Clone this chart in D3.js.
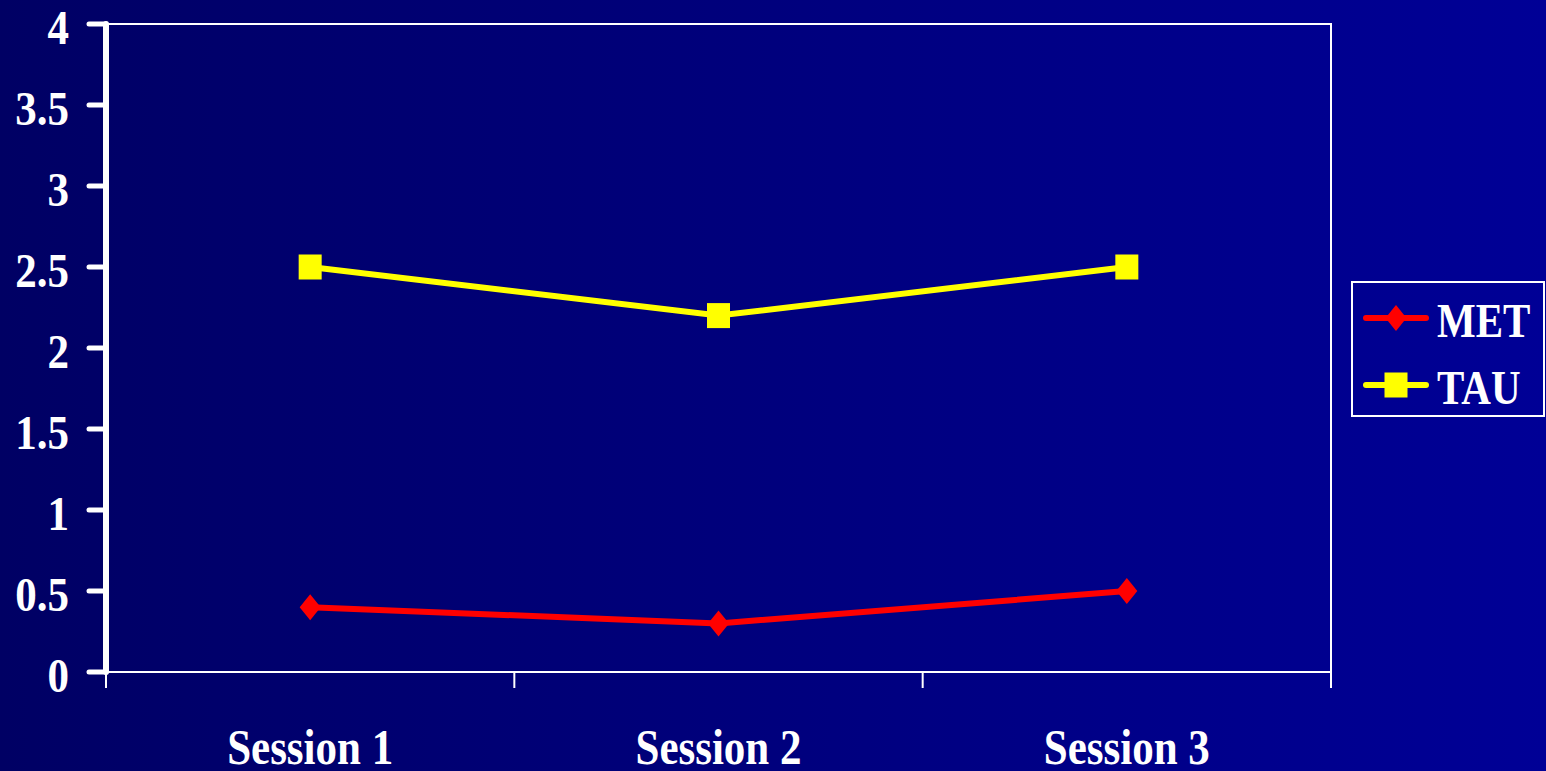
<!DOCTYPE html>
<html>
<head>
<meta charset="utf-8">
<script src="https://cdn.jsdelivr.net/npm/d3@7"></script>
<style>
  html, body { margin: 0; padding: 0; overflow: hidden; }
  svg { display: block; }
  text { font-family: "Liberation Serif", "Times New Roman", serif; font-weight: bold; fill: #fff; }
</style>
</head>
<body>
<svg id="chart" width="1546" height="771"></svg>
<script>
// Chart data
const sessions = ["Session 1", "Session 2", "Session 3"];
const metValues = [0.4, 0.3, 0.5];
const tauValues = [2.5, 2.2, 2.5];
const yTicks = [0, 0.5, 1, 1.5, 2, 2.5, 3, 3.5, 4];

const series = [
  { name: "MET", values: metValues, color: "#ff0000", marker: "diamond" },
  { name: "TAU", values: tauValues, color: "#ffff00", marker: "square" }
];

const W = 1546, H = 771;
const plot = { left: 106, right: 1331, top: 24, bottom: 672 };

const svg = d3.select("#chart");

// Background: horizontal navy-to-blue gradient
const defs = svg.append("defs");
const grad = defs.append("linearGradient").attr("id", "bg").attr("x1", 0).attr("x2", 1).attr("y1", 0).attr("y2", 0);
grad.append("stop").attr("offset", "0%").attr("stop-color", "#000064");
grad.append("stop").attr("offset", "100%").attr("stop-color", "#000096");
svg.append("rect").attr("width", W).attr("height", H).attr("fill", "url(#bg)");

const x = d3.scaleBand().domain(sessions).range([plot.left, plot.right]).padding(0);
const y = d3.scaleLinear().domain([0, 4]).range([plot.bottom, plot.top]);
const cx = d => x(d) + x.bandwidth() / 2;

// Text is drawn slightly stretched vertically (tall, narrow glyphs)
function stretchedText(sel, px, py, sy) {
  return sel.attr("transform", (d, i) => `translate(${px(d, i)},${py(d, i)}) scale(1,${sy})`);
}

// Plot frame (top and right edges)
svg.append("path")
  .attr("d", `M${plot.left},${plot.top}H${plot.right}V${plot.bottom}`)
  .attr("fill", "none").attr("stroke", "#fff").attr("stroke-width", 2);

// X axis
const xAxis = svg.append("g").attr("transform", `translate(0,${plot.bottom})`);
xAxis.append("line").attr("x1", plot.left).attr("x2", plot.right).attr("stroke", "#fff").attr("stroke-width", 2);
const xBounds = sessions.map(s => x(s)).concat([plot.right]);
xAxis.selectAll("line.tick").data(xBounds).join("line").attr("class", "tick")
  .attr("x1", d => d).attr("x2", d => d).attr("y1", 0).attr("y2", 16)
  .attr("stroke", "#fff").attr("stroke-width", 2);
stretchedText(
  xAxis.selectAll("text").data(sessions).join("text")
    .attr("text-anchor", "middle").style("font-size", "43px").text(d => d),
  d => cx(d), () => 92, 1.17);

// Y axis
const yAxis = svg.append("g");
yAxis.append("line").attr("x1", plot.left).attr("x2", plot.left)
  .attr("y1", plot.top).attr("y2", plot.bottom)
  .attr("stroke", "#fff").attr("stroke-width", 6).attr("stroke-linecap", "round");
yAxis.selectAll("line.tick").data(yTicks).join("line").attr("class", "tick")
  .attr("x1", plot.left - 17).attr("x2", plot.left).attr("y1", d => y(d)).attr("y2", d => y(d))
  .attr("stroke", "#fff").attr("stroke-width", 5).attr("stroke-linecap", "round");
stretchedText(
  yAxis.selectAll("text").data(yTicks).join("text")
    .attr("text-anchor", "end").style("font-size", "43px").text(d => d),
  () => 69, d => y(d) + 20, 1.12);

// Series lines and markers
const line = d3.line().x((d, i) => cx(sessions[i])).y(d => y(d));
function drawMarker(g, type, color) {
  if (type === "diamond") {
    g.append("path").attr("d", "M0,-13L10.5,0L0,13L-10.5,0Z").attr("fill", color);
  } else {
    g.append("rect").attr("x", -11.5).attr("y", -12.5).attr("width", 23).attr("height", 25).attr("fill", color);
  }
}
series.forEach(s => {
  svg.append("path").datum(s.values).attr("d", line)
    .attr("fill", "none").attr("stroke", s.color).attr("stroke-width", 6);
  s.values.forEach((v, i) => {
    const g = svg.append("g").attr("transform", `translate(${cx(sessions[i])},${y(v)})`);
    drawMarker(g, s.marker, s.color);
  });
});

// Legend
const legend = svg.append("g");
legend.append("rect").attr("x", 1352).attr("y", 282).attr("width", 192).attr("height", 134)
  .attr("fill", "none").attr("stroke", "#fff").attr("stroke-width", 2);
series.forEach((s, i) => {
  const ly = 318 + i * 67;
  legend.append("line").attr("x1", 1366).attr("x2", 1426).attr("y1", ly).attr("y2", ly)
    .attr("stroke", s.color).attr("stroke-width", 6).attr("stroke-linecap", "round");
  const g = legend.append("g").attr("transform", `translate(1396,${ly})`);
  drawMarker(g, s.marker, s.color);
  legend.append("text").style("font-size", "41px").text(s.name)
    .attr("transform", `translate(1437,${ly + 19}) scale(1,1.2)`);
});
</script>
</body>
</html>
